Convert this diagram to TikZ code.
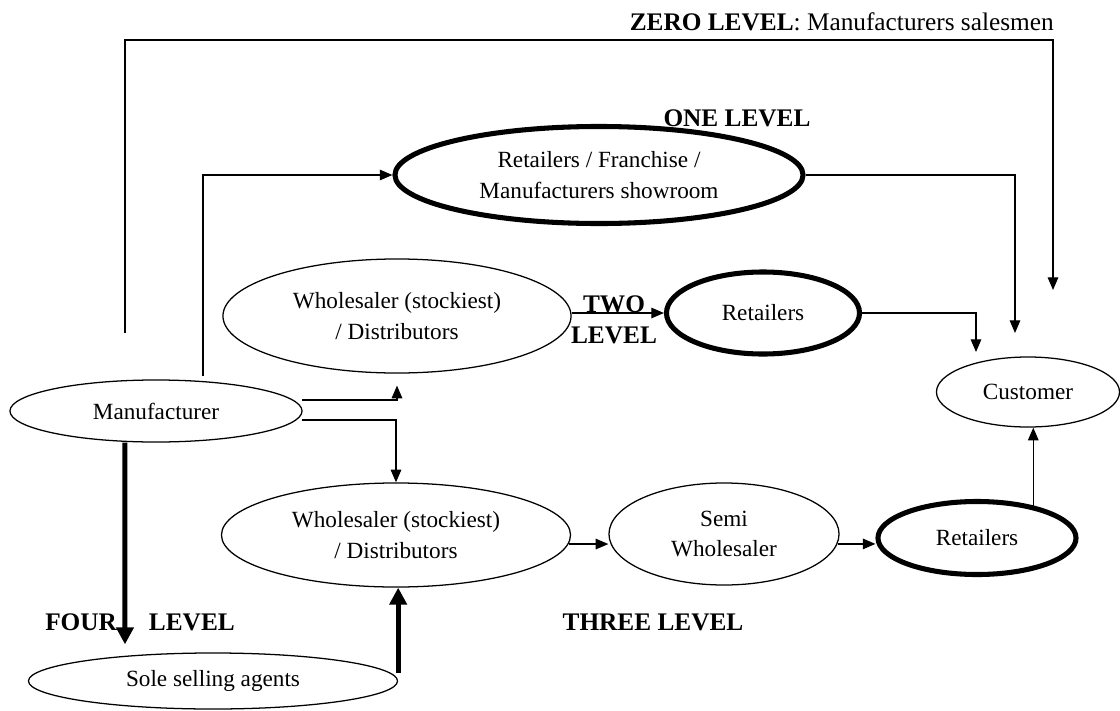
\documentclass[tikz,border=0pt]{standalone}
\usepackage{fontspec}
\setmainfont{Liberation Serif}
\usetikzlibrary{arrows.meta,shapes.geometric}
\newcommand{\boxfont}{\fontsize{16.5}{21.5}\selectfont}
\newcommand{\levelfont}{\fontsize{18}{22}\selectfont\bfseries}
\tikzset{oval/.style={ellipse, draw, line width=0.9pt, inner sep=0pt, align=center, font=\boxfont},
         heavyoval/.style={oval, line width=3.6pt},
         link/.style={line width=0.9pt, -{Triangle[length=9pt,width=7.5pt]}},
         heavylink/.style={line width=3.6pt, -{Triangle[length=12pt,width=12pt]}},
         lvltext/.style={font=\levelfont, inner sep=0pt}}

\begin{document}
\begin{tikzpicture}[x=0.025cm,y=-0.025cm]
\useasboundingbox (0,0) rectangle (1120,711);
% Ovals:
\node[oval, minimum width=7.3cm, minimum height=1.55cm] (manuf) at (156,411) {Manufacturer};
\node[oval, minimum width=8.7cm, minimum height=2.85cm] (wholeA) at (397,316) {Wholesaler (stockiest)\\ / Distributors};
\node[heavyoval, minimum width=10.2cm, minimum height=2.425cm] (showroom) at (599,175) {Retailers / Franchise /\\ Manufacturers showroom};
\node[heavyoval, minimum width=4.825cm, minimum height=2.05cm] (retA) at (763,313) {Retailers};
\node[oval, minimum width=4.575cm, minimum height=1.75cm] (customer) at (1028,392) {Customer};
\node[oval, minimum width=8.725cm, minimum height=2.6cm] (wholeB) at (396,535) {Wholesaler (stockiest)\\ / Distributors};
\node[oval, minimum width=5.75cm, minimum height=2.55cm] (semi) at (724,534) {Semi\\ Wholesaler};
\node[heavyoval, minimum width=4.95cm, minimum height=1.825cm] (retB) at (977,538) {Retailers};
\node[oval, minimum width=9.225cm, minimum height=1.4cm] (sole) at (213,681) {Sole selling agents};

% Level labels:
\node[lvltext, anchor=east] (zero) at (1054,22) {ZERO LEVEL\mdseries: Manufacturers salesmen};
\node[lvltext] (one) at (737,118) {ONE LEVEL};
\node[lvltext, align=center] (two) at (614,320) {TWO\\LEVEL};
\node[lvltext] (three) at (653,622) {THREE LEVEL};
\node[lvltext, anchor=west] (four) at (45,622) {FOUR\hspace{0.8cm}LEVEL};

% Zero level:
\coordinate (zup) at (125,333);
\coordinate (zdown) at (1053,290);
\draw[link] (zup) -- (125,40) -- (1053,40) -- (zdown);
% One level:
\coordinate (oneup) at (203,376);
\coordinate (onedown) at (1015,333);
\draw[link] (oneup) |- (showroom.west);
\draw[link] (showroom.east) -| (onedown);
% Two level:
\coordinate (twodown) at (976,352);
\coordinate (mA) at (302,400);
\draw[link, shorten >=8.5pt] (mA) -| (wholeA.south);
\draw[link] (wholeA.east |- retA.west) -- (retA.west);
\draw[link] (retA.east) -| (twodown);
% Three level:
\coordinate (mB) at (302,420);
\draw[link] (mB) -| (wholeB.north);
\draw[link] (wholeB.-3) -- (wholeB.-3 -| semi.west);
\draw[link] (semi.-5) -- (semi.-5 -| retB.west);
\draw[link] (retB.30) -- (retB.30 |- customer.south);
% Four level:
\draw[heavylink] ([xshift=-0.78cm]manuf.south) -- ([xshift=-2.2cm,yshift=0.2cm]sole.north);
\draw[heavylink] ([yshift=0.2cm]sole.east) -- (sole.east |- wholeB.south);
\end{tikzpicture}
\end{document}
